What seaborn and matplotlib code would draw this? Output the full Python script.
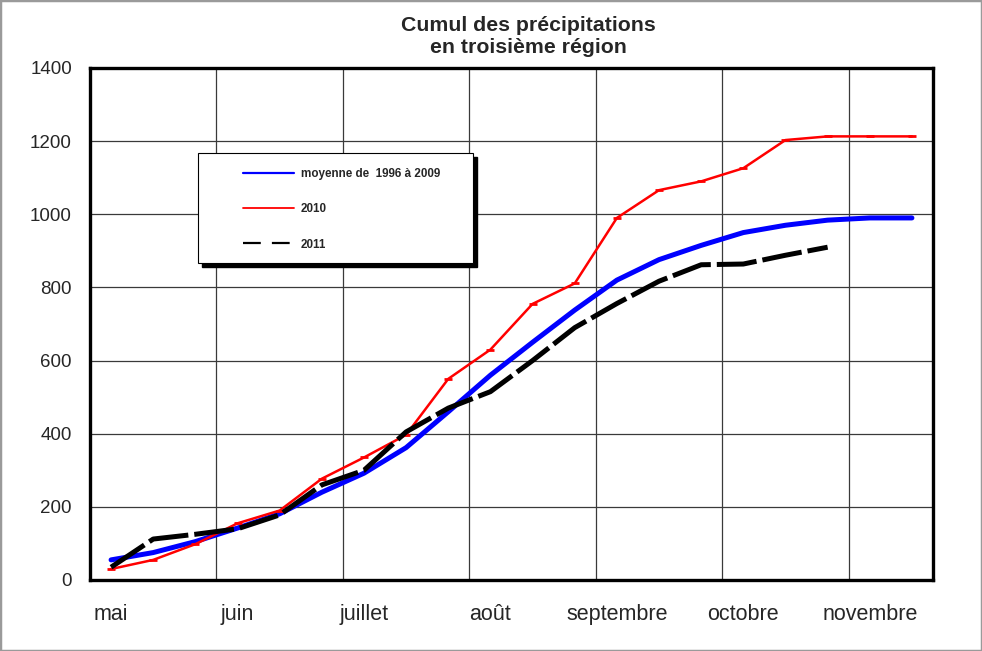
import numpy as np
import pandas as pd
import matplotlib
matplotlib.use('Agg')
import matplotlib.pyplot as plt
from matplotlib.patches import Rectangle
import seaborn as sns

# données : cumul par décade, de mai à novembre
mois = ['mai', 'juin', 'juillet', 'août', 'septembre', 'octobre', 'novembre']
decades = list(range(20))
moyenne = [55, 75, 105, 142, 181, 240, 292, 362, 460, 560,
           650, 738, 820, 876, 915, 950, 970, 984, 990, 990]
annee_2010 = [30, 55, 98, 155, 190, 277, 335, 397, 550, 630,
              755, 811, 990, 1066, 1090, 1126, 1203, 1213, 1213, 1213]
annee_2011 = [35, 112, 125, 140, 178, 260, 300, 405, 470, 515,
              600, 690, 756, 817, 862, 864, 888, 910, np.nan, np.nan]

sns.set_style('white')
plt.rcParams['font.family'] = ['Liberation Sans', 'DejaVu Sans']

fig = plt.figure(figsize=(9.82, 6.51), dpi=100)
ax = fig.add_axes([90/982, 71/651, 843/982, 512/651])

sns.lineplot(x=decades, y=moyenne, ax=ax, color='#0000FF', lw=3.6,
             label='moyenne de  1996 à 2009')
sns.lineplot(x=decades, y=annee_2010, ax=ax, color='#FF0000', lw=1.8,
             marker='_', markersize=6, markeredgewidth=2,
             markeredgecolor='#FF0000', label='2010')
sns.lineplot(x=decades, y=annee_2011, ax=ax, color='black', lw=3.6,
             label='2011')
ax.lines[-1].set_dashes((8, 1.2))

# axes et grille
ax.set_xlim(-0.5, 19.5)
ax.set_ylim(0, 1400)
ax.set_xticks(np.arange(2.5, 18, 3))
ax.set_xticks(np.arange(0, 20, 3), minor=True)
ax.set_xticklabels([])
ax.set_xticklabels(mois, minor=True, fontsize=15.5)
ax.tick_params(axis='x', which='major', direction='in', length=4, width=3, color='black')
ax.tick_params(axis='x', which='minor', length=0, pad=17)
ax.set_yticks(range(0, 1401, 200))
ax.tick_params(axis='y', direction='in', length=3, width=2, labelsize=13.5, pad=13)
ax.grid(True, which='major', color='#3a3a3a', lw=0.9)
for sp in ax.spines.values():
    sp.set_visible(True)
    sp.set_color('black')
    sp.set_linewidth(2.4)

ax.set_title('Cumul des précipitations\nen troisième région', fontsize=15.3,
             fontweight='bold', pad=11, linespacing=1.15, x=0.52)

# légende avec cadre et ombre
ax.add_patch(Rectangle((202/982, (651-267)/651), 275/982, 110/651,
                       transform=fig.transFigure, facecolor='black',
                       edgecolor='black', zorder=3, clip_on=False))
ax.add_patch(Rectangle((198/982, (651-263)/651), 275/982, 110/651,
                       transform=fig.transFigure, facecolor='white',
                       edgecolor='black', lw=0.8, zorder=3.1, clip_on=False))
leg = ax.legend(loc='upper left', bbox_to_anchor=(237/982, 1 - 162/651),
                bbox_transform=fig.transFigure, frameon=False, borderpad=0,
                handlelength=4.4, handletextpad=0.55, labelspacing=2.0,
                prop={'size': 8.4, 'weight': 'bold'})
leg.set_zorder(5)
leg_lines = leg.get_lines()
leg_lines[0].set_linewidth(1.6)
leg_lines[1].set_linewidth(1.3)
leg_lines[1].set_marker('')
leg_lines[2].set_linewidth(1.6)
leg_lines[2].set_dashes((8, 5))

# cadre gris autour de la figure
fig.add_artist(Rectangle((0, 0), 1, 1, transform=fig.transFigure, fill=False,
                         edgecolor='#9a9a9a', lw=2.5))

fig.savefig('out.png', dpi=100)
